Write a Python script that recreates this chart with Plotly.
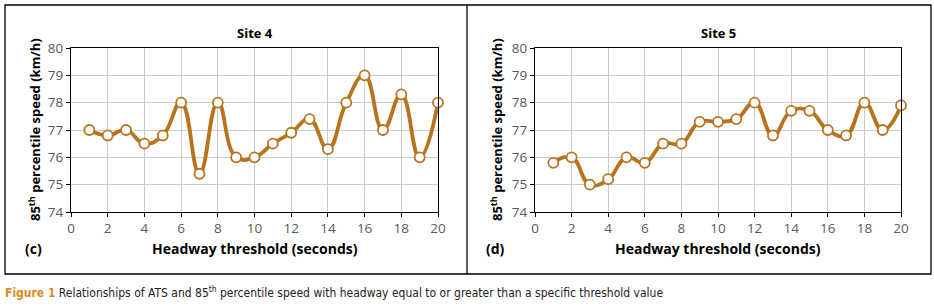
import plotly.graph_objects as go

headway = list(range(1, 21))
site4_speed = [77.0, 76.8, 77.0, 76.5, 76.8, 78.0, 75.4, 78.0, 76.0, 76.0,
               76.5, 76.9, 77.4, 76.3, 78.0, 79.0, 77.0, 78.3, 76.0, 78.0]
site5_speed = [75.8, 76.0, 75.0, 75.2, 76.0, 75.8, 76.5, 76.5, 77.3, 77.3,
               77.4, 78.0, 76.8, 77.7, 77.7, 77.0, 76.8, 78.0, 77.0, 77.9]
x_ticks = list(range(0, 21, 2))
y_ticks = list(range(74, 81))

W, H = 934, 307
LINE = "#B8731C"
FONT = "Open Sans"

def px(x):
    return x / W

def py(y):
    return 1 - y / H

fig = go.Figure()
panels = [
    (site4_speed, "x", "y", "Site 4", "(c)", 71, 438, 5),
    (site5_speed, "x2", "y2", "Site 5", "(d)", 535, 901, 467),
]
for vals, xa, ya, _, _, _, _, _ in panels:
    fig.add_trace(go.Scatter(
        x=headway, y=vals, xaxis=xa, yaxis=ya, mode="lines+markers",
        line=dict(color=LINE, width=3.8, shape="spline", smoothing=1.3),
        marker=dict(size=10, color="white", line=dict(color=LINE, width=1.8)),
        showlegend=False, cliponaxis=False,
    ))

axis_common = dict(
    showline=True, linecolor="black", linewidth=1.3, mirror=True,
    ticks="outside", ticklen=4, tickcolor="black", tickwidth=1,
    showgrid=True, gridcolor="#cccccc", gridwidth=1, zeroline=False,
    automargin=False,
    tickfont=dict(family=FONT, size=13.5, color="#5a5a5a"),
)
ann = []
shapes = []

def note(text, x, y, size=13, angle=0, xanchor="center", family=FONT, color="black"):
    ann.append(dict(text=text, x=px(x), y=py(y), xref="paper", yref="paper",
                    xanchor=xanchor, yanchor="middle", showarrow=False, textangle=angle,
                    font=dict(family=family, size=size, color=color)))

for i, (vals, xa, ya, title, tag, x0, x1, fx) in enumerate(panels):
    sfx = "" if i == 0 else str(i + 1)
    fig.update_layout(**{
        "xaxis" + sfx: dict(axis_common, domain=[px(x0), px(x1)], range=[0, 20],
                            tickvals=x_ticks, anchor="y" + sfx),
        "yaxis" + sfx: dict(axis_common, domain=[py(212), py(48)], range=[74, 80],
                            tickvals=y_ticks, anchor="x" + sfx),
    })
    cx = (x0 + x1) / 2
    note("<b>" + title + "</b>", cx, 33)
    note("<b>Headway threshold (seconds)</b>", cx, 248, size=14)
    note("<b>" + tag + "</b>", fx + 28, 248, size=14)
    note("<b>85<sup>th</sup> percentile speed (km/h)</b>", fx + 29, 130, size=13, angle=-90)

# outer frame
shapes.append(dict(type="rect", xref="paper", yref="paper", x0=px(5), x1=px(931),
                   y0=py(274), y1=py(5), line=dict(color="black", width=1.3)))
shapes.append(dict(type="line", xref="paper", yref="paper", x0=px(467), x1=px(467),
                   y0=py(274), y1=py(5), line=dict(color="black", width=1.3)))

note("<b><span style='color:#E08A1E'>Figure 1</span></b> Relationships of ATS and 85<sup>th</sup> "
     "percentile speed with headway equal to or greater than a specific threshold value",
     3, 292, size=12, xanchor="left",
     family="DejaVu Sans Condensed, Open Sans, sans-serif", color="#222222")

fig.update_layout(
    width=W, height=H, margin=dict(l=0, r=0, t=0, b=0),
    paper_bgcolor="white", plot_bgcolor="white",
    annotations=ann, shapes=shapes,
)
fig.write_html("out.html", config={"displayModeBar": False},
               post_script="document.body.style.margin='0';")
